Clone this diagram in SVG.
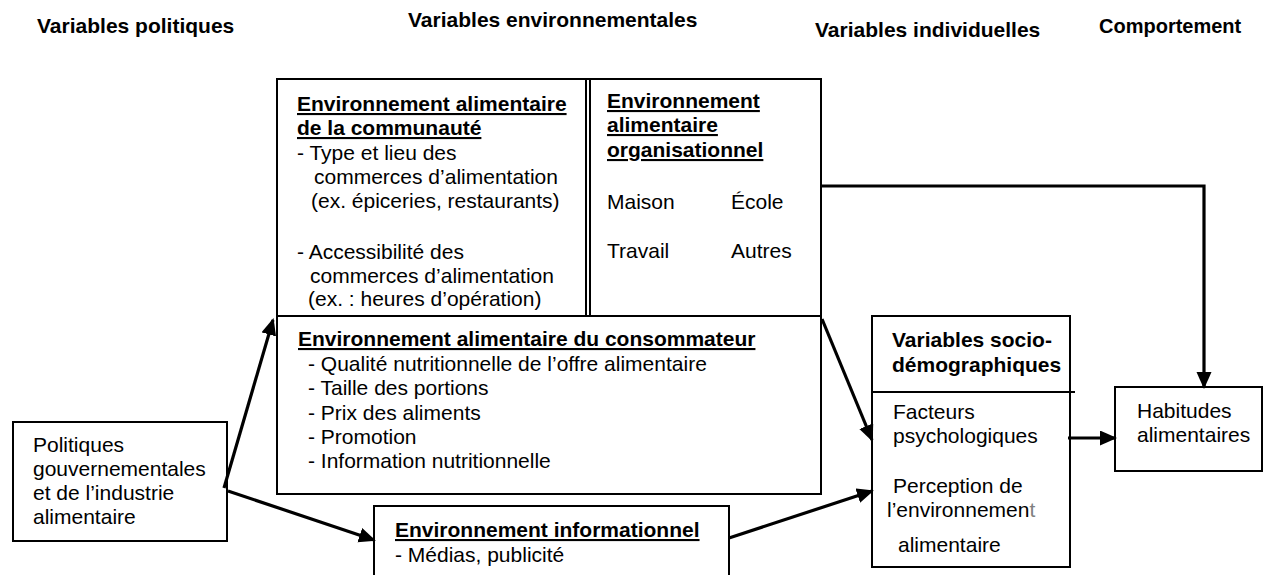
<svg xmlns="http://www.w3.org/2000/svg" width="1265" height="575" viewBox="0 0 1265 575">
<style>
text{font-family:"Liberation Sans",Arial,sans-serif;font-size:21px;fill:#000}
.h{font-weight:bold}
.u{font-weight:bold;text-decoration:underline}
.box{fill:none;stroke:#000;stroke-width:2}
.ln{fill:none;stroke:#000;stroke-width:2}
.arr{fill:none;stroke:#000;stroke-width:3.2;marker-end:url(#ah)}
</style>
<defs>
<marker id="ah" markerUnits="userSpaceOnUse" markerWidth="18" markerHeight="16" refX="15" refY="7.5" orient="auto">
<path d="M0,0 L17,7.5 L0,15 z" fill="#000"/>
</marker>
</defs>
<rect width="1265" height="575" fill="#fff"/>

<g id="headers">
<text class="h" x="37" y="33">Variables politiques</text>
<text class="h" x="408" y="27">Variables environnementales</text>
<text class="h" x="815" y="37">Variables individuelles</text>
<text class="h" x="1099" y="33" style="font-size:20px">Comportement</text>
</g>

<g id="environment-box">
<rect class="box" x="277" y="79" width="544" height="415"/>
<line class="ln" x1="277" y1="316" x2="821" y2="316"/>
<line class="ln" x1="586" y1="79" x2="586" y2="316"/>
<line class="ln" x1="590" y1="79" x2="590" y2="316"/>
</g>

<g id="community">
<text class="u" x="297" y="111">Environnement alimentaire</text>
<text class="u" x="297" y="135">de la communauté</text>
<text x="297" y="160">- Type et lieu des</text>
<text x="314" y="184">commerces d’alimentation</text>
<text x="311" y="208">(ex. épiceries, restaurants)</text>
<text x="297" y="259">- Accessibilité des</text>
<text x="310" y="283">commerces d’alimentation</text>
<text x="308" y="306">(ex. : heures d’opération)</text>
</g>

<g id="organisational">
<text class="u" x="607" y="108">Environnement</text>
<text class="u" x="607" y="132">alimentaire</text>
<text class="u" x="607" y="157">organisationnel</text>
<text x="607" y="209">Maison</text>
<text x="731" y="209">École</text>
<text x="607" y="258">Travail</text>
<text x="731" y="258">Autres</text>
</g>

<g id="consumer">
<text class="u" x="298" y="346">Environnement alimentaire du consommateur</text>
<text x="308" y="371">- Qualité nutritionnelle de l’offre alimentaire</text>
<text x="308" y="395">- Taille des portions</text>
<text x="308" y="420">- Prix des aliments</text>
<text x="308" y="444">- Promotion</text>
<text x="308" y="468">- Information nutritionnelle</text>
</g>

<g id="politiques">
<rect class="box" x="13" y="422" width="214" height="119"/>
<text x="33" y="452">Politiques</text>
<text x="33" y="476">gouvernementales</text>
<text x="33" y="500">et de l’industrie</text>
<text x="33" y="524">alimentaire</text>
</g>

<g id="informationnel">
<path class="box" d="M374,580 L374,506 L729,506 L729,580"/>
<text class="u" x="395" y="537">Environnement informationnel</text>
<text x="395" y="562">- Médias, publicité</text>
</g>

<g id="individuelles">
<rect class="box" x="872" y="316" width="198" height="251"/>
<line class="ln" x1="872" y1="392" x2="1075" y2="392"/>
<text class="h" x="892" y="347">Variables socio-</text>
<text class="h" x="892" y="372">démographiques</text>
<text x="893" y="419">Facteurs</text>
<text x="893" y="443">psychologiques</text>
<text x="893" y="493">Perception de</text>
<text x="887" y="517">l’environnemen<tspan fill="#808080">t</tspan></text>
<text x="898" y="552">alimentaire</text>
</g>

<g id="habitudes">
<rect class="box" x="1115" y="387" width="147" height="84"/>
<text x="1137" y="418">Habitudes</text>
<text x="1137" y="442">alimentaires</text>
</g>

<g id="connectors">
<line class="arr" x1="224" y1="488" x2="273" y2="320"/>
<line class="arr" x1="228" y1="491" x2="374" y2="540"/>
<line class="arr" x1="822" y1="319" x2="872" y2="440"/>
<line class="arr" x1="729" y1="538" x2="872" y2="491"/>
<line class="arr" x1="1068" y1="438" x2="1115" y2="438"/>
<path class="arr" d="M821,186 L1204,186 L1204,387"/>
</g>
</svg>
